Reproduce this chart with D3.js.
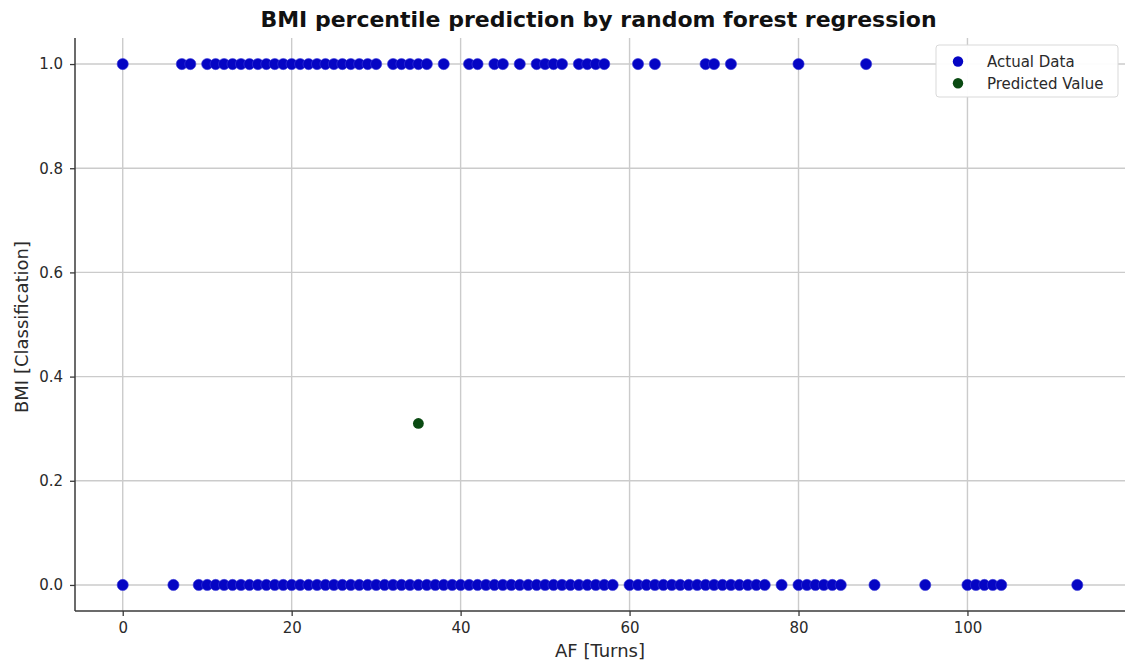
<!DOCTYPE html>
<html>
<head>
<meta charset="utf-8">
<script src="https://cdn.jsdelivr.net/npm/d3@7"></script>
<style>
  html, body { margin: 0; padding: 0; background: #ffffff; }
  svg { display: block; font-family: "DejaVu Sans", sans-serif; }
</style>
</head>
<body>
<svg id="chart" width="1125" height="664"></svg>
<script>
// ---- data ----
const titleText = "BMI percentile prediction by random forest regression";
const xLabel = "AF [Turns]";
const yLabel = "BMI [Classification]";
const seriesNames = ["Actual Data", "Predicted Value"];

// AF values of actual data points with BMI class 1.0
const afClass1 = [0, 7, 8, 10, 11, 12, 13, 14, 15, 16, 17, 18, 19, 20, 21, 22, 23, 24, 25, 26, 27, 28, 29, 30,
  32, 33, 34, 35, 36, 38, 41, 42, 44, 45, 47, 49, 50, 51, 52, 54, 55, 56, 57, 61, 63, 69, 70, 72, 80, 88];
// AF values of actual data points with BMI class 0.0
const afClass0 = [0, 6, 9, 10, 11, 12, 13, 14, 15, 16, 17, 18, 19, 20, 21, 22, 23, 24, 25, 26, 27, 28, 29, 30,
  31, 32, 33, 34, 35, 36, 37, 38, 39, 40, 41, 42, 43, 44, 45, 46, 47, 48, 49, 50, 51, 52, 53, 54, 55, 56, 57, 58,
  60, 61, 62, 63, 64, 65, 66, 67, 68, 69, 70, 71, 72, 73, 74, 75, 76, 78, 80, 81, 82, 83, 84, 85, 89, 95,
  100, 101, 102, 103, 104, 113];
const classValues = [1.0, 0.0];

// predicted value
const predictedAF = [35];
const predictedBMI = [0.31];

const xTicks = [0, 20, 40, 60, 80, 100];
const yTicks = [0.0, 0.2, 0.4, 0.6, 0.8, 1.0];
const xDomain = [-5.65, 118.65];
const yDomain = [-0.05, 1.05];

const colors = { actual: "#0505c4", predicted: "#0a4a12" };

// ---- layout ----
const svg = d3.select("#chart");
const pLeft = 75, pRight = 1125, pTop = 38, pBottom = 611;

const x = d3.scaleLinear().domain(xDomain).range([pLeft, pRight]);
const y = d3.scaleLinear().domain(yDomain).range([pBottom, pTop]);

// grid
const grid = svg.append("g");
grid.selectAll("line.vx").data(xTicks).join("line")
  .attr("x1", d => x(d)).attr("x2", d => x(d))
  .attr("y1", pTop).attr("y2", pBottom)
  .attr("stroke", "#cbcbcb").attr("stroke-width", 1.4);
grid.selectAll("line.hy").data(yTicks).join("line")
  .attr("x1", pLeft).attr("x2", pRight)
  .attr("y1", d => y(d)).attr("y2", d => y(d))
  .attr("stroke", "#cbcbcb").attr("stroke-width", 1.4);

// axes
const xAxis = svg.append("g").attr("transform", `translate(0,${pBottom})`)
  .call(d3.axisBottom(x).tickValues(xTicks).tickFormat(d3.format("d")).tickSize(5).tickPadding(6));
const yAxis = svg.append("g").attr("transform", `translate(${pLeft},0)`)
  .call(d3.axisLeft(y).tickValues(yTicks).tickFormat(d3.format(".1f")).tickSize(5).tickPadding(7));
[xAxis, yAxis].forEach(a => {
  a.select(".domain").attr("stroke", "#3a3a3a").attr("stroke-width", 1.5);
  a.selectAll(".tick line").attr("stroke", "#3a3a3a").attr("stroke-width", 1.3);
  a.selectAll(".tick text").attr("fill", "#2a2a2a")
    .style("font-family", "'DejaVu Sans', sans-serif").style("font-size", "15px");
});
xAxis.select(".domain").attr("d", `M${pLeft},0H${pRight}`);
yAxis.select(".domain").attr("d", `M0,${pBottom}V${pTop}`);

// points: actual data
const actualPts = [];
afClass1.forEach(v => actualPts.push({ af: v, bmi: classValues[0] }));
afClass0.forEach(v => actualPts.push({ af: v, bmi: classValues[1] }));
svg.append("g").selectAll("circle").data(actualPts).join("circle")
  .attr("cx", d => x(d.af)).attr("cy", d => y(d.bmi)).attr("r", 5.6)
  .attr("fill", colors.actual).attr("stroke", "#3a3ad8").attr("stroke-width", 0.6);

// predicted
svg.append("g").selectAll("circle").data(predictedAF.map((v, i) => ({ af: v, bmi: predictedBMI[i] }))).join("circle")
  .attr("cx", d => x(d.af)).attr("cy", d => y(d.bmi)).attr("r", 5.4)
  .attr("fill", colors.predicted);

// title
svg.append("text").attr("x", 598.5).attr("y", 27).attr("text-anchor", "middle")
  .style("font-family", "'DejaVu Sans', sans-serif").style("font-weight", "bold").style("font-size", "22px")
  .attr("fill", "#111").text(titleText);

// axis labels
svg.append("text").attr("x", 600).attr("y", 657).attr("text-anchor", "middle")
  .style("font-size", "18px").attr("fill", "#2a2a2a").text(xLabel);
svg.append("text").attr("transform", "translate(28,327) rotate(-90)").attr("text-anchor", "middle")
  .style("font-size", "18px").attr("fill", "#2a2a2a").text(yLabel);

// legend
const lg = svg.append("g");
lg.append("rect").attr("x", 936).attr("y", 45).attr("width", 182).attr("height", 52).attr("rx", 3)
  .attr("fill", "#ffffff").attr("fill-opacity", 0.95).attr("stroke", "#d9d9d9").attr("stroke-width", 1);
const legendItems = [
  { name: seriesNames[0], color: colors.actual },
  { name: seriesNames[1], color: colors.predicted }
];
legendItems.forEach((it, i) => {
  const cy = 61.5 + i * 21.7;
  lg.append("circle").attr("cx", 958).attr("cy", cy).attr("r", 5.2).attr("fill", it.color);
  lg.append("text").attr("x", 987).attr("y", cy + 5.3).style("font-size", "15px")
    .attr("fill", "#2a2a2a").text(it.name);
});
</script>
</body>
</html>
